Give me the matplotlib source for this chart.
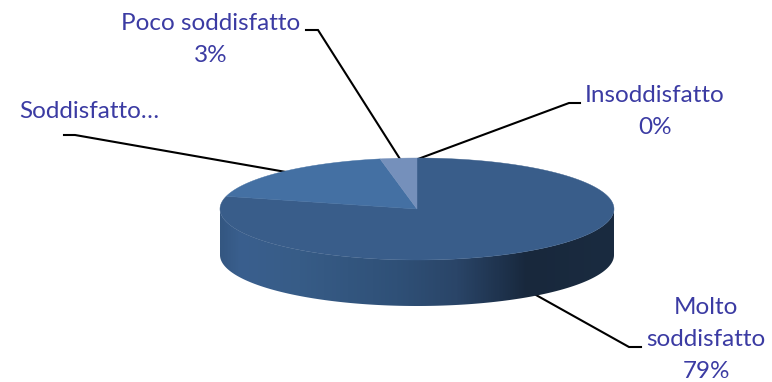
#!/bin/env python

import numpy as np
import matplotlib
matplotlib.use('Agg')
import matplotlib.pyplot as plt
from matplotlib.colors import LinearSegmentedColormap
from matplotlib.patches import PathPatch
from matplotlib.path import Path

# chart values
categories = ['Molto soddisfatto', 'Soddisfatto', 'Poco soddisfatto', 'Insoddisfatto']
percentages = [79, 18, 3, 0]

TEXT_COLOR = '#3b3ba3'
top_colors = ['#395d8a', '#4470a3', '#7590bb', '#9db0d0']

# pie geometry, in pixels of the picture
CX, CY = 417, 209
RX, RY = 197, 51
DEPTH = 46


def ellipse_points(start_deg, end_deg, dy=0):
    # angles run clockwise from 12 o'clock
    t = np.radians(np.linspace(start_deg, end_deg, 200))
    return CX + RX * np.sin(t), CY + dy - RY * np.cos(t)


fig = plt.figure(figsize=(7.72, 3.82), dpi=100)
ax = fig.add_axes([0, 0, 1, 1])
ax.set_xlim(0, 772)
ax.set_ylim(382, 0)
ax.axis('off')

# leader lines
leaders = [
    ([306, 318, 400], [30, 30, 159]),
    ([580, 569, 418], [103, 103, 159]),
    ([64, 75, 286], [135, 135, 172]),
    ([641, 629, 536], [347, 347, 295]),
]
for xs, ys in leaders:
    ax.plot(xs, ys, color='black', lw=1.5, solid_joinstyle='miter', zorder=1)

# side wall, gradient clipped to the front half of the ring
fx, fy = ellipse_points(90, 270, dy=DEPTH)
bx, by = ellipse_points(270, 90)
verts = np.column_stack([np.r_[fx, bx, fx[0]], np.r_[fy, by, fy[0]]])
codes = [Path.MOVETO] + [Path.LINETO] * (len(verts) - 2) + [Path.CLOSEPOLY]
side = PathPatch(Path(verts, codes), fc='none', ec='none', transform=ax.transData)
ax.add_patch(side)
side_cmap = LinearSegmentedColormap.from_list('side', [
    (0.00, '#345781'), (0.05, '#3a5f8e'), (0.20, '#375c87'), (0.45, '#2f5077'),
    (0.60, '#2a4568'), (0.72, '#1e324c'), (0.78, '#18283c'), (1.00, '#1a2b40'),
])
grad = np.linspace(0, 1, 400).reshape(1, -1)
img = ax.imshow(grad, cmap=side_cmap, extent=(CX - RX, CX + RX, CY + RY + DEPTH, CY - RY),
                aspect='auto', zorder=2, interpolation='bilinear')
img.set_clip_path(side)
ax.set_xlim(0, 772)
ax.set_ylim(382, 0)

# top face, slices follow the values clockwise from 12 o'clock
start = 0
for value, color in zip(percentages, top_colors):
    if value == 0:
        continue
    end = start + value * 3.6
    x, y = ellipse_points(start, end)
    ax.fill(np.r_[CX, x], np.r_[CY, y], color=color, lw=0.3, zorder=3)
    start = end

# labels
font = dict(color=TEXT_COLOR, fontsize=17.5, family=['Lato', 'DejaVu Sans'],
            ha='center', va='center')
ax.text(211, 23, categories[2], **font)
ax.text(211, 56, '%d%%' % percentages[2], **font)
ax.text(655, 95, categories[3], **font)
ax.text(655, 128, '%d%%' % percentages[3], **font)
ax.text(89, 112, categories[1] + '…', **font)
ax.text(706, 307, 'Molto', **font)
ax.text(706, 339, 'soddisfatto', **font)
ax.text(706, 372, '%d%%' % percentages[0], **font)

fig.savefig('out.png', dpi=100)
